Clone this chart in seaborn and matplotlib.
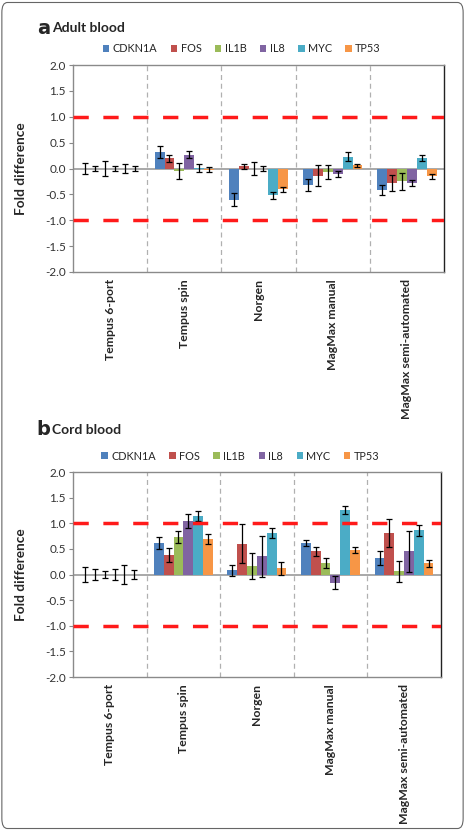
import matplotlib.pyplot as plt
import seaborn as sns
import numpy as np
import pandas as pd
from matplotlib.patches import FancyBboxPatch

metodos = ['Tempus 6-port', 'Tempus spin', 'Norgen', 'MagMax manual', 'MagMax semi-automated']
genes = ['CDKN1A', 'FOS', 'IL1B', 'IL8', 'MYC', 'TP53']
colores = ['#4F81BD', '#C0504D', '#9BBB59', '#8064A2', '#4BACC6', '#F79646']

# filas = métodos, columnas = genes
adulto_media = [[0.00, 0.00, 0.00, 0.00, 0.00, 0.00],
                [0.32, 0.20, -0.05, 0.27, 0.01, -0.02],
                [-0.60, 0.04, 0.00, 0.00, -0.52, -0.40],
                [-0.32, -0.14, -0.07, -0.10, 0.23, 0.06],
                [-0.42, -0.28, -0.25, -0.28, 0.20, -0.15]]
adulto_error = [[0.11, 0.05, 0.14, 0.05, 0.08, 0.04],
                [0.11, 0.07, 0.15, 0.07, 0.07, 0.05],
                [0.12, 0.04, 0.13, 0.05, 0.06, 0.05],
                [0.12, 0.20, 0.13, 0.06, 0.08, 0.03],
                [0.10, 0.15, 0.16, 0.06, 0.06, 0.05]]

cordon_media = [[0.00, 0.00, 0.00, 0.00, 0.00, 0.00],
                [0.62, 0.38, 0.73, 1.05, 1.14, 0.69],
                [0.08, 0.60, 0.16, 0.36, 0.81, 0.12],
                [0.62, 0.45, 0.23, -0.16, 1.26, 0.47],
                [0.32, 0.81, 0.06, 0.45, 0.86, 0.22]]
cordon_error = [[0.14, 0.11, 0.06, 0.10, 0.19, 0.09],
                [0.12, 0.14, 0.11, 0.14, 0.09, 0.10],
                [0.10, 0.38, 0.25, 0.40, 0.09, 0.12],
                [0.06, 0.08, 0.10, 0.13, 0.08, 0.06],
                [0.13, 0.28, 0.20, 0.40, 0.11, 0.07]]

umbral = [1.0, -1.0]
ticks_y = np.arange(-2.0, 2.01, 0.5)

sns.set_style('white')
plt.rcParams['font.family'] = ['Lato', 'DejaVu Sans']
plt.rcParams['axes.unicode_minus'] = False


def dibujar(ax, media, error):
    df = pd.DataFrame([(m, g, media[i][j]) for i, m in enumerate(metodos)
                       for j, g in enumerate(genes)], columns=['Método', 'Gen', 'Valor'])
    sns.barplot(data=df, x='Método', y='Valor', hue='Gen', palette=colores,
                width=0.8, gap=0, errorbar=None, saturation=1, ax=ax, linewidth=0)
    ancho = 0.8 / len(genes)
    for i in range(len(metodos)):
        for j in range(len(genes)):
            x = i + (j - (len(genes) - 1) / 2) * ancho
            ax.errorbar(x, media[i][j], yerr=error[i][j], color='black',
                        lw=0.9, capsize=2.2, capthick=0.9)
    ax.axhline(0, color='#9a9a9a', lw=1.2, zorder=0.5)
    for k in range(len(metodos) - 1):
        ax.axvline(k + 0.5, color='#b0b0b0', lw=0.9, ls=(0, (4, 3)), zorder=0.4)
    for u in umbral:
        ax.axhline(u, color='#ff1a1a', lw=2.5, ls=(0, (4.4, 4.2)), zorder=3)
    ax.set_xlim(-0.5, len(metodos) - 0.5)
    ax.set_ylim(-2, 2)
    ax.set_yticks(ticks_y)
    ax.set_yticklabels([f'{t:.1f}' for t in ticks_y], fontsize=8.5, color='#333333')
    ax.set_xticks(range(len(metodos)))
    ax.set_xticklabels(metodos, rotation=90, fontsize=8.8, fontweight='bold', va='top')
    ax.tick_params(axis='x', length=0, pad=5)
    ax.tick_params(axis='y', length=3, width=0.8, color='#888888', left=True, pad=2)
    ax.set_xlabel('')
    ax.set_ylabel('Fold difference', fontsize=9.8, fontweight='bold')
    ax.yaxis.set_label_coords(-0.125, 0.5)
    for lado in ['left', 'bottom', 'top']:
        ax.spines[lado].set_color('#8a8a8a')
        ax.spines[lado].set_linewidth(1.0)
    ax.spines['right'].set_color('#222222')
    ax.spines['right'].set_linewidth(1.0)
    h, l = ax.get_legend_handles_labels()
    ax.legend(h, l, loc='center', bbox_to_anchor=(0.455, 1.078), ncol=6, frameon=False,
              fontsize=7.8, handlelength=0.6, handleheight=0.6, handletextpad=0.3,
              columnspacing=1.25)


fig = plt.figure(figsize=(4.65, 8.31), dpi=100)
ax1 = fig.add_axes([0.157, 0.6727, 0.798, 0.249])
ax2 = fig.add_axes([0.157, 0.1853, 0.791, 0.2467])

dibujar(ax1, adulto_media, adulto_error)
dibujar(ax2, cordon_media, cordon_error)

fig.text(0.079, 0.966, 'a', fontsize=14, fontweight='bold', family='DejaVu Sans', va='center')
fig.text(0.112, 0.966, 'Adult blood', fontsize=10, fontweight='bold', va='center')
fig.text(0.079, 0.483, 'b', fontsize=14, fontweight='bold', family='DejaVu Sans', va='center')
fig.text(0.112, 0.483, 'Cord blood', fontsize=10, fontweight='bold', va='center')

fig.patches.append(FancyBboxPatch((0.004, 0.003), 0.992, 0.994,
                                  boxstyle='round,pad=0,rounding_size=0.012',
                                  transform=fig.transFigure, fill=False,
                                  ec='#666666', lw=0.8))

fig.savefig('out.png', dpi=100)
